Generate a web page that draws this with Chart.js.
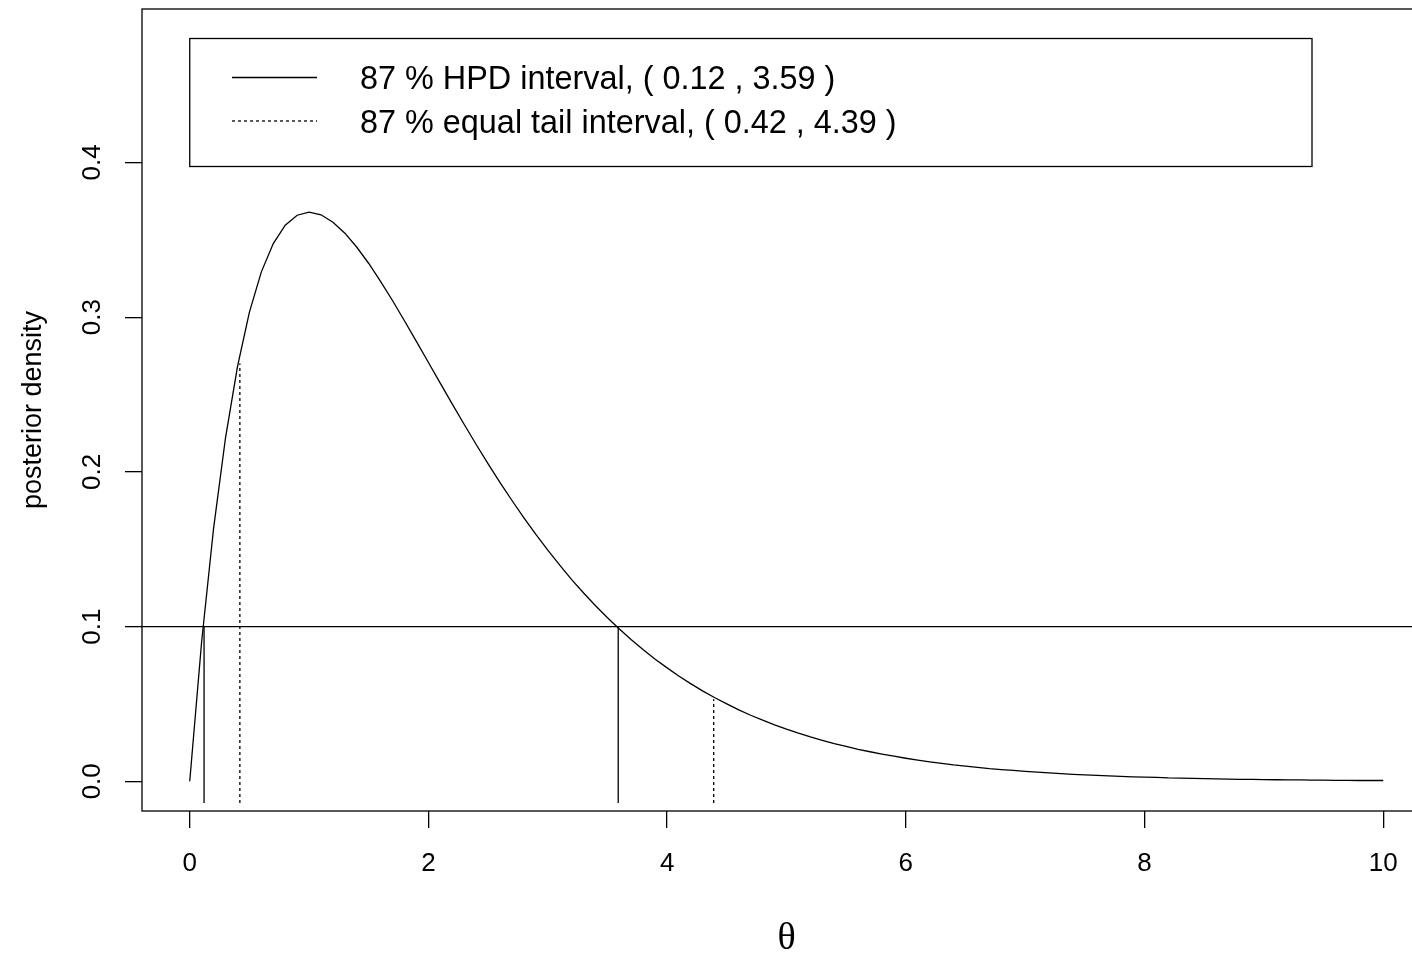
<!DOCTYPE html>
<html>
<head>
<meta charset="utf-8">
<script src="https://cdn.jsdelivr.net/npm/chart.js@4.4.1/dist/chart.umd.min.js"></script>
<style>
  html, body { margin: 0; padding: 0; background: #fff; overflow: hidden; }
  #wrap { width: 1431px; height: 954px; }
</style>
</head>
<body>
<div id="wrap"><canvas id="chartGraph"></canvas></div>
<script>
// values
const theta = [
  0, 0.1, 0.2, 0.3, 0.4, 0.5, 0.6, 0.7, 0.8, 0.9,
  1, 1.1, 1.2, 1.3, 1.4, 1.5, 1.6, 1.7, 1.8, 1.9,
  2, 2.1, 2.2, 2.3, 2.4, 2.5, 2.6, 2.7, 2.8, 2.9,
  3, 3.1, 3.2, 3.3, 3.4, 3.5, 3.6, 3.7, 3.8, 3.9,
  4, 4.1, 4.2, 4.3, 4.4, 4.5, 4.6, 4.7, 4.8, 4.9,
  5, 5.1, 5.2, 5.3, 5.4, 5.5, 5.6, 5.7, 5.8, 5.9,
  6, 6.1, 6.2, 6.3, 6.4, 6.5, 6.6, 6.7, 6.8, 6.9,
  7, 7.1, 7.2, 7.3, 7.4, 7.5, 7.6, 7.7, 7.8, 7.9,
  8, 8.1, 8.2, 8.3, 8.4, 8.5, 8.6, 8.7, 8.8, 8.9,
  9, 9.1, 9.2, 9.3, 9.4, 9.5, 9.6, 9.7, 9.8, 9.9,
  10
];
const density = [
  0, 0.0905, 0.1637, 0.2222, 0.2681, 0.3033, 0.3293, 0.3476, 0.3595, 0.3659,
  0.3679, 0.3662, 0.3614, 0.3543, 0.3452, 0.3347, 0.3230, 0.3106, 0.2975, 0.2842,
  0.2707, 0.2572, 0.2438, 0.2306, 0.2177, 0.2052, 0.1931, 0.1815, 0.1703, 0.1596,
  0.1494, 0.1397, 0.1304, 0.1217, 0.1135, 0.1057, 0.0984, 0.0915, 0.0850, 0.0789,
  0.0733, 0.0679, 0.0630, 0.0583, 0.0540, 0.0500, 0.0462, 0.0427, 0.0395, 0.0365,
  0.0337, 0.0311, 0.0287, 0.0265, 0.0244, 0.0225, 0.0207, 0.0191, 0.0176, 0.0162,
  0.0149, 0.0137, 0.0126, 0.0116, 0.0106, 0.0098, 0.0090, 0.0082, 0.0076, 0.0070,
  0.0064, 0.0059, 0.0054, 0.0049, 0.0045, 0.0041, 0.0038, 0.0035, 0.0032, 0.0029,
  0.0027, 0.0025, 0.0022, 0.0021, 0.0019, 0.0017, 0.0016, 0.0014, 0.0013, 0.0012,
  0.0011, 0.0010, 0.0009, 0.0009, 0.0008, 0.0007, 0.0006, 0.0006, 0.0005, 0.0005,
  0.0005
];

const hpdBounds = [0.12, 3.59];
const hpdTops = [0.1, 0.1];
const tailBounds = [0.42, 4.39];
const tailTops = [0.27, 0.053];
const segmentFloor = -0.014;
const cutLevel = 0.1;

const xRange = [-0.4, 10.4];
const yRange = [-0.0192, 0.4992];
const xStep = 2;
const yStep = 0.1;

const hpdLabel = '87 % HPD interval, ( 0.12 , 3.59 )';
const tailLabel = '87 % equal tail interval, ( 0.42 , 4.39 )';
const xTitle = 'θ';
const yTitle = 'posterior density';


function segments(xs, tops) {
  let pts = [];
  xs.forEach((x, i) => {
    pts.push({x: x, y: segmentFloor}, {x: x, y: tops[i]}, {x: x, y: null});
  });
  return pts;
}

const curveData = theta.map((t, i) => ({x: t, y: density[i]}));

const boxPlugin = {
  id: 'box',
  afterDraw(chart) {
    const a = chart.chartArea;
    const c = chart.ctx;
    c.save();
    c.strokeStyle = '#000';
    c.lineWidth = 1.3;
    c.setLineDash([]);
    c.strokeRect(a.left, a.top, a.right - a.left, a.bottom - a.top);
    c.restore();
  }
};

// R style legend box in the top left of the plot
const legendPlugin = {
  id: 'rlegend',
  afterDraw(chart) {
    const c = chart.ctx;
    const left = chart.scales.x.getPixelForValue(0);
    c.save();
    c.strokeStyle = '#000';
    c.lineWidth = 1.3;
    c.strokeRect(left, 38.5, 1312 - left, 128);
    const entries = [chart.data.datasets[1], chart.data.datasets[2]];
    entries.forEach((ds, i) => {
      const y = 77.5 + i * 43.5;
      c.beginPath();
      c.setLineDash(ds.borderDash || []);
      c.lineWidth = ds.borderWidth;
      c.moveTo(232, y);
      c.lineTo(317, y);
      c.stroke();
      c.setLineDash([]);
      c.fillStyle = '#000';
      c.font = '32.4px "Liberation Sans", Arial, sans-serif';
      c.textBaseline = 'alphabetic';
      c.textAlign = 'left';
      c.fillText(ds.label, 360, y + 11.5);
    });
    c.restore();
  }
};

const ctx = document.getElementById('chartGraph');

let myChart = new Chart(ctx, {
  type: 'line',
  data: {
    datasets: [
      {
        label: 'density',
        data: curveData,
        borderColor: '#000',
        borderWidth: 1.3,
        pointRadius: 0,
        tension: 0,
        fill: false
      },
      {
        label: hpdLabel,
        data: segments(hpdBounds, hpdTops),
        borderColor: '#000',
        borderWidth: 1.3,
        pointRadius: 0,
        spanGaps: false
      },
      {
        label: tailLabel,
        data: segments(tailBounds, tailTops),
        borderColor: '#000',
        borderWidth: 1.3,
        borderDash: [3, 3],
        pointRadius: 0,
        spanGaps: false
      },
      {
        label: 'cut',
        data: [{x: xRange[0], y: cutLevel}, {x: xRange[1], y: cutLevel}],
        borderColor: '#000',
        borderWidth: 1.3,
        pointRadius: 0
      }
    ]
  },
  options: {
    animation: false,
    responsive: true,
    maintainAspectRatio: false,
    layout: { padding: { top: 9, left: 0, right: 0, bottom: 0 } },
    plugins: {
      legend: { display: false },
      tooltip: { enabled: false }
    },
    scales: {
      x: {
        type: 'linear',
        min: xRange[0],
        max: xRange[1],
        afterFit: (s) => { s.height = 143; s.paddingLeft = 0; s.paddingRight = 0; },
        ticks: {
          stepSize: xStep,
          includeBounds: false,
          maxRotation: 0,
          padding: 20,
          color: '#000',
          font: { family: 'Liberation Sans', size: 26 }
        },
        grid: { drawOnChartArea: false, drawTicks: true, tickLength: 17, color: '#000', lineWidth: 1.3 },
        border: { display: false },
        title: {
          display: true,
          text: xTitle,
          color: '#000',
          padding: 0,
          font: { family: 'Liberation Serif', size: 38, lineHeight: 0.8 }
        }
      },
      y: {
        type: 'linear',
        min: yRange[0],
        max: yRange[1],
        afterFit: (s) => { s.width = 142; s.paddingTop = 0; s.paddingBottom = 0; },
        ticks: {
          stepSize: yStep,
          includeBounds: false,
          minRotation: 90,
          maxRotation: 90,
          crossAlign: 'center',
          padding: 14,
          color: '#000',
          font: { family: 'Liberation Sans', size: 26 },
          callback: (v) => v.toFixed(1)
        },
        grid: { drawOnChartArea: false, drawTicks: true, tickLength: 17, color: '#000', lineWidth: 1.3 },
        border: { display: false },
        title: {
          display: true,
          text: yTitle,
          color: '#000',
          padding: { top: 17, bottom: 0 },
          font: { family: 'Liberation Sans', size: 27 }
        }
      }
    }
  },
  plugins: [boxPlugin, legendPlugin]
});
</script>
</body>
</html>
